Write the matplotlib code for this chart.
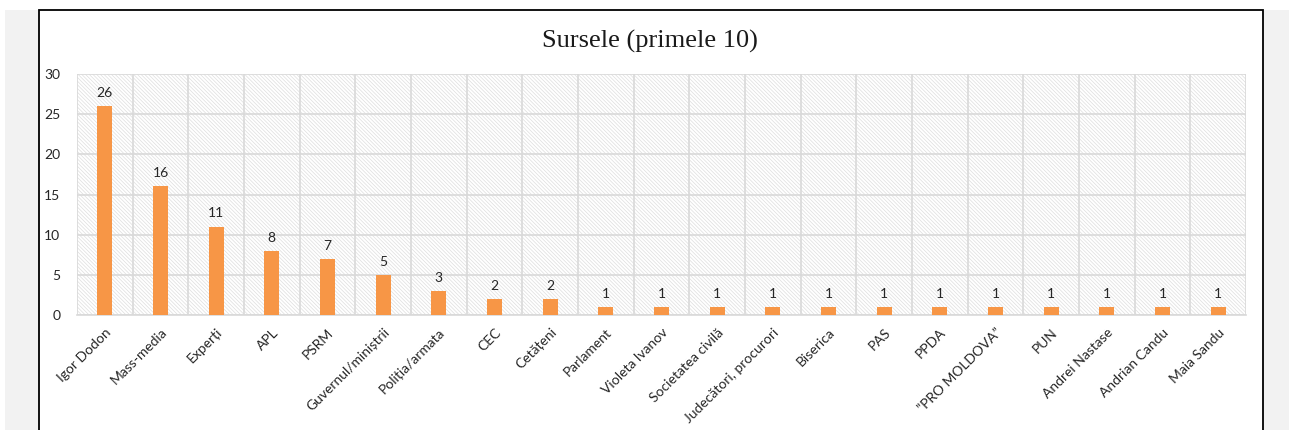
import matplotlib
matplotlib.use("Agg")
import matplotlib.pyplot as plt
from matplotlib.patches import Rectangle
import numpy as np

categories = ["Igor Dodon", "Mass-media", "Experți", "APL", "PSRM", "Guvernul/miniștrii",
              "Poliția/armata", "CEC", "Cetățeni", "Parlament", "Violeta Ivanov",
              "Societatea civilă", "Judecători, procurori", "Biserica", "PAS", "PPDA",
              "”PRO MOLDOVA”", "PUN", "Andrei Nastase", "Andrian Candu", "Maia Sandu"]
values = [26, 16, 11, 8, 7, 5, 3, 2, 2, 1, 1, 1, 1, 1, 1, 1, 1, 1, 1, 1, 1]
title = "Sursele (primele 10)"
yticks = [0, 5, 10, 15, 20, 25, 30]

plt.rcParams["hatch.linewidth"] = 0.5

W, H = 1289, 430
fig = plt.figure(figsize=(W / 100, H / 100), dpi=100)
fig.patch.set_facecolor("white")

# grey page background and bordered white box
fig.add_artist(Rectangle((5 / W, 0), (W - 5) / W, (H - 10) / H, transform=fig.transFigure,
                         facecolor="#f2f2f2", edgecolor="none", zorder=-3))
fig.add_artist(Rectangle((39 / W, -0.01), (1263 - 39) / W, (H - 10) / H + 0.01,
                         transform=fig.transFigure, facecolor="white", edgecolor="black",
                         linewidth=1.3, zorder=-2))

x0, x1 = 77, 1246
y0, y1 = 315, 74
ax = fig.add_axes([x0 / W, (H - y0) / H, (x1 - x0) / W, (y0 - y1) / H])
ax.set_facecolor("none")
ax.add_patch(Rectangle((0, 0), 1, 1, transform=ax.transAxes, facecolor="white",
                       edgecolor="#dedede", hatch="\\" * 9, linewidth=0, zorder=0))

x = np.arange(len(categories))
bars = ax.bar(x, values, width=0.27, color="#F79646", zorder=3)
for xi, v in zip(x, values):
    ax.text(xi, v + 0.9, str(v), ha="center", va="bottom", fontsize=10,
            family="Lato", color="#262626", zorder=4)

ax.set_xlim(-0.5, len(categories) - 0.5)
ax.set_ylim(0, 30)
ax.set_yticks(yticks)
ax.set_yticklabels([str(t) for t in yticks], fontsize=10, family="Lato", color="#262626")
ax.set_xticks(x)
ax.set_xticklabels(categories, rotation=45, ha="right", rotation_mode="anchor",
                   fontsize=10, family="Lato", color="#262626")
ax.set_xticks(np.arange(-0.5, len(categories), 1), minor=True)
ax.tick_params(axis="both", which="both", length=0)
ax.tick_params(axis="x", pad=8)
ax.tick_params(axis="y", pad=12)
ax.grid(axis="y", which="major", color="#d9d9d9", linewidth=1.2, zorder=1)
ax.grid(axis="x", which="minor", color="#d9d9d9", linewidth=1.2, zorder=1)
ax.grid(axis="x", which="major", visible=False)
ax.set_axisbelow(True)
for s in ["top", "right", "left"]:
    ax.spines[s].set_visible(False)
ax.spines["bottom"].set_color("#d9d9d9")
ax.spines["bottom"].set_linewidth(1.2)

fig.text(650 / W, (H - 41) / H, title, ha="center", va="center",
         fontsize=19, family="Liberation Serif", color="#1a1a1a")

fig.savefig("out.png", dpi=100)
